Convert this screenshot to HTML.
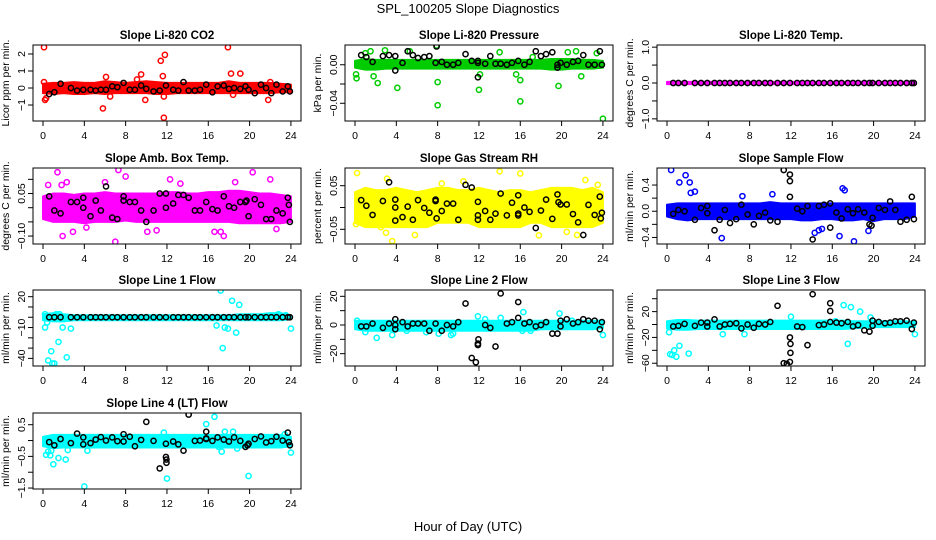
<!DOCTYPE html>
<html><head><meta charset="utf-8"><title>SPL_100205 Slope Diagnostics</title>
<style>
html,body{margin:0;padding:0;background:#fff;}
svg{display:block;font-family:"Liberation Sans",Arial,sans-serif;}
</style></head>
<body>
<svg id="chart" width="936" height="540" viewBox="0 0 936 540" xmlns="http://www.w3.org/2000/svg">
<text x="468" y="13" text-anchor="middle" font-size="13">SPL_100205  Slope Diagnostics</text>
<text x="468" y="531" text-anchor="middle" font-size="13">Hour of Day (UTC)</text>
</svg>
<script>
// ---------- shared data ----------
const bandHours = [0,1,2,3,4,5,6,7,8,9,10,11,12,13,14,15,16,17,18,19,20,21,22,23,24];
const blackHours = [0.6,1.1,1.7,2.7,3.3,3.9,4.6,5.1,5.6,6.1,6.7,7.2,7.8,8.4,8.9,9.5,10.0,10.7,11.3,11.9,12.6,13.1,13.6,14.1,14.7,15.2,15.8,16.4,16.9,17.5,18.0,18.5,19.1,19.6,19.9,20.5,21.1,21.6,22.1,22.6,23.2,23.7,23.9];
const xTicks = [0,4,8,12,16,20,24];

// ---------- CO2 ----------
const co2BandLo = [-0.3,-0.35,-0.3,-0.35,-0.35,-0.3,-0.35,-0.3,-0.3,-0.3,-0.3,-0.35,-0.35,-0.3,-0.3,-0.3,-0.3,-0.3,-0.3,-0.3,-0.3,-0.3,-0.3,-0.25,-0.25];
const co2BandHi = [0.25,0.3,0.3,0.35,0.3,0.3,0.4,0.35,0.3,0.35,0.4,0.35,0.3,0.3,0.3,0.3,0.3,0.3,0.4,0.3,0.3,0.3,0.3,0.25,0.2];
const co2Black = [-0.35,-0.25,0.25,0.0,-0.15,-0.1,-0.1,-0.15,-0.1,-0.1,0.1,0.05,0.3,-0.1,-0.1,0.15,-0.05,-0.2,-0.15,0.15,-0.1,-0.15,0.35,-0.15,-0.15,-0.1,0.2,-0.25,0.1,0.15,-0.05,0.0,-0.05,0.1,-0.1,-0.3,0.2,0.0,-0.3,0.2,-0.2,0.1,-0.2];
const co2OutX = [0.1,0.1,0.2,0.3,5.8,6.1,6.5,9.1,9.5,9.9,11.4,11.6,11.7,11.8,11.7,17.9,18.2,18.4,19.1,21.8,22.0];
const co2OutY = [2.4,0.35,-0.7,-0.6,-1.2,0.65,-0.5,0.5,0.8,-0.7,1.6,0.7,-0.5,1.95,-1.75,2.4,0.85,-0.4,0.85,-0.7,0.35];
const co2ExtraX = [];
const co2ExtraY = [];

// ---------- Pressure ----------
const presBandLo = [-0.003,-0.005,-0.005,-0.004,-0.004,-0.004,-0.004,-0.004,-0.004,-0.004,-0.004,-0.004,-0.004,-0.004,-0.004,-0.004,-0.004,-0.004,-0.004,-0.005,-0.005,-0.004,-0.004,-0.004,-0.003];
const presBandHi = [0.004,0.006,0.005,0.005,0.005,0.005,0.005,0.005,0.005,0.005,0.005,0.005,0.005,0.005,0.005,0.005,0.005,0.005,0.005,0.006,0.006,0.006,0.005,0.005,0.004];
const presBlack = [0.01,0.008,0.003,0.009,0.01,0.009,0.002,0.014,0.01,0.007,0.008,0.009,0.002,0.003,0.0,0.0,0.002,0.011,0.004,0.002,0.001,0.009,0.001,0.001,0.0,0.002,0.004,0.0,0.003,0.014,0.009,0.011,0.013,0.0,0.002,0.0,0.003,0.004,0.01,0.0,0.0,0.014,0.0];
const presOutX = [0.1,0.15,1.0,1.5,1.8,2.2,2.9,4.1,5.3,7.9,8.0,8.0,12.0,12.1,14.0,15.6,16.0,16.0,17.2,19.7,20.6,21.4,21.9,23.4,24.0];
const presOutY = [-0.01,-0.014,0.012,0.014,-0.012,-0.019,0.015,-0.024,0.014,0.02,-0.018,-0.042,-0.026,-0.01,0.013,-0.01,-0.038,-0.016,0.008,-0.022,0.013,0.014,-0.012,0.012,-0.056];
const presExtraX = [3.9,7.9,11.9,11.9,19.6];
const presExtraY = [-0.006,0.019,-0.013,0.004,-0.003];

// ---------- Li-820 Temp ----------
const tempBandLo = [-0.03,-0.03,-0.03,-0.03,-0.03,-0.03,-0.03,-0.03,-0.03,-0.03,-0.03,-0.03,-0.03,-0.03,-0.03,-0.03,-0.03,-0.03,-0.03,-0.03,-0.03,-0.03,-0.03,-0.03,-0.03];
const tempBandHi = [0.03,0.03,0.03,0.03,0.03,0.03,0.03,0.03,0.03,0.03,0.03,0.03,0.03,0.03,0.03,0.03,0.03,0.03,0.03,0.03,0.03,0.03,0.03,0.03,0.03];
const tempBlack = [0,0,0,0,0,0,0,0,0,0,0,0,0,0,0,0,0,0,0,0,0,0,0,0,0,0,0,0,0,0,0,0,0,0,0,0,0,0,0,0,0,0,0];
const tempOutX = [];
const tempOutY = [];
const tempExtraX = [];
const tempExtraY = [];

// ---------- Amb Box Temp ----------
const ambBandLo = [-0.04,-0.05,-0.05,-0.05,-0.055,-0.05,-0.05,-0.05,-0.045,-0.05,-0.05,-0.05,-0.05,-0.05,-0.05,-0.05,-0.05,-0.05,-0.05,-0.055,-0.055,-0.055,-0.055,-0.055,-0.05];
const ambBandHi = [0.04,0.05,0.05,0.045,0.05,0.05,0.055,0.05,0.05,0.05,0.05,0.05,0.055,0.055,0.05,0.05,0.055,0.055,0.06,0.06,0.055,0.05,0.05,0.045,0.04];
const ambBlack = [0.04,-0.01,-0.02,0.02,0.02,0.035,-0.03,0.025,-0.01,0.075,-0.035,-0.04,0.04,0.02,0.02,-0.01,-0.05,-0.01,0.05,0.05,0.015,0.045,0.045,0.035,-0.01,-0.01,0.02,-0.005,-0.01,0.04,0.005,0.0,0.02,0.02,-0.03,0.03,0.01,-0.04,-0.04,-0.01,-0.02,0.035,-0.05];
const ambOutX = [1.4,0.5,1.8,2.3,1.9,2.9,6.0,7.3,7.0,10.1,12.3,13.3,16.6,17.2,17.5,18.6,20.3,22.0,22.6,4.2,11.0,8.0];
const ambOutY = [0.125,0.08,0.08,0.09,-0.1,-0.085,0.09,0.133,-0.12,-0.085,0.1,0.085,-0.085,-0.085,-0.1,0.09,0.125,0.1,-0.075,-0.07,-0.08,0.11];
const ambExtraX = [3.9,7.8,11.9,19.7,23.8];
const ambExtraY = [0.0,0.025,0.0,0.025,0.01];

// ---------- Gas Stream RH ----------
const rhBandLo = [-0.035,-0.045,-0.045,-0.045,-0.045,-0.045,-0.045,-0.045,-0.035,-0.035,-0.035,-0.035,-0.045,-0.045,-0.045,-0.045,-0.045,-0.035,-0.035,-0.045,-0.045,-0.045,-0.045,-0.045,-0.035];
const rhBandHi = [0.035,0.045,0.04,0.04,0.045,0.04,0.035,0.04,0.045,0.045,0.04,0.04,0.045,0.04,0.035,0.04,0.04,0.035,0.04,0.045,0.045,0.045,0.04,0.045,0.035];
const rhBlack = [0.017,0.004,-0.017,0.015,0.058,0.018,-0.022,0.002,-0.028,0.017,-0.001,-0.012,0.018,-0.008,0.009,0.009,-0.028,0.052,0.046,0.013,-0.008,-0.028,-0.014,0.032,-0.018,0.011,-0.014,0.0,-0.01,-0.047,-0.007,0.018,-0.026,0.03,0.007,0.007,-0.015,-0.034,-0.063,0.006,-0.017,0.025,-0.012];
const rhOutX = [0.2,0.1,3.1,3.0,3.6,2.5,5.8,8.4,14.0,16.0,17.8,20.5,21.5,22.3,23.5,10.5];
const rhOutY = [0.079,-0.038,0.066,-0.058,-0.077,-0.045,-0.063,0.055,0.083,0.078,-0.064,-0.056,-0.063,0.063,0.052,0.06];
const rhExtraX = [3.9,3.9,7.8,7.9,11.9,11.9,15.8,15.8,19.7,23.8];
const rhExtraY = [-0.03,0.0,0.015,-0.025,-0.018,-0.028,-0.018,0.028,0.012,-0.025];

// ---------- Sample Flow ----------
const sampBandLo = [-0.08,-0.12,-0.14,-0.12,-0.12,-0.12,-0.12,-0.12,-0.12,-0.12,-0.12,-0.12,-0.12,-0.14,-0.14,-0.12,-0.12,-0.14,-0.14,-0.12,-0.15,-0.12,-0.12,-0.12,-0.08];
const sampBandHi = [0.1,0.12,0.12,0.12,0.12,0.12,0.12,0.12,0.12,0.12,0.14,0.12,0.12,0.12,0.12,0.12,0.12,0.12,0.12,0.12,0.12,0.12,0.12,0.12,0.12];
const sampBlack = [-0.04,0.02,0.0,-0.13,0.05,-0.03,-0.29,-0.13,0.02,-0.18,-0.12,0.1,-0.05,-0.2,-0.07,-0.02,-0.14,-0.16,0.63,0.56,0.04,0.0,0.08,-0.43,0.08,0.1,-0.25,-0.02,-0.11,0.03,-0.03,0.03,-0.02,-0.2,-0.1,0.05,0.02,0.15,0.02,-0.16,-0.13,0.22,-0.12];
const sampOutX = [0.4,1.2,1.8,2.2,2.3,2.7,5.3,14.3,14.7,15.0,16.7,17.0,17.2,18.1,19.5,7.3,10.2];
const sampOutY = [0.63,0.44,0.55,0.44,0.28,0.3,-0.41,-0.33,-0.29,-0.27,-0.38,0.35,0.32,-0.46,-0.3,0.23,0.26];
const sampExtraX = [11.9,11.9,3.9,15.8,19.8];
const sampExtraY = [0.46,0.22,0.08,0.12,-0.22];

// ---------- Line 1 Flow ----------
const l1BandLo = [-3,-4,-4,-3,-3,-3,-3,-3,-3,-3,-3,-3,-3,-3,-3,-3,-3,-3,-3,-3,-3,-3,-3,-3,-2];
const l1BandHi = [3,4,3,2,2,2,2,2,2,2,2,2,2,2,2,2,2,2,2,3,3,3,4,4,2];
const l1Black = [0,0,0,0,0,0,0,0,0,0,0,0,0,0,0,0,0,0,0,0,0,0,0,0,0,0,0,0,0,0,0,0,0,0,0,0,0,0,0,0,0,0,0];
const l1OutX = [0.2,0.2,0.4,0.5,0.8,0.9,1.1,1.3,1.5,1.6,1.9,2.3,2.7,17.2,17.4,16.8,17.6,17.9,18.3,18.7,19.0,24.0,22.8,23.5];
const l1OutY = [3,-10,-5,-42,-33,-45,-45,3,-24,3,-10,-39,-11,26,-30,-8,-10,-11,16,-15,12,-11,3,2];
const l1ExtraX = [];
const l1ExtraY = [];

// ---------- Line 2 Flow ----------
const l2BandLo = [-3,-4,-4,-4,-4,-4,-4,-4,-4,-4,-4,-4,-4,-4,-4,-4,-4,-4,-3,-3,-3,-3,-3,-3,-2];
const l2BandHi = [3,3,3,3,3,3,3,3,3,3,3,3,3,3,3,3,3,3,3,3,3,3,3,3,3];
const l2Black = [-1,-1,1,-2,1,4,2,-1,1,1,1,-4,1,-4,0,-1,2,15,-23,-13,0,-2,-15,22,1,2,16,1,2,-1,0,2,-6,-6,3,4,1,2,4,3,3,-3,2];
const l2OutX = [0.2,2.1,1.0,3.6,5.0,6.9,8.1,9.3,9.5,11.9,12.6,14.1,16.3,16.2,17.0,19.8,24.0,21.0];
const l2OutY = [3,-9,-5,-7,-4,-5,-6,-7,-6,6,4,5,9,-4,-4,8,-7,3];
const l2ExtraX = [11.7,11.95,11.9,15.8,3.9,3.9,19.9];
const l2ExtraY = [-26,-10,-14,5,0,-3,-1];

// ---------- Line 3 Flow ----------
const l3BandLo = [-6,-8,-8,-7,-7,-7,-7,-7,-7,-7,-7,-7,-7,-7,-7,-7,-7,-7,-6,-5,-4,-4,-4,-4,-4];
const l3BandHi = [5,7,7,6,6,6,6,6,6,6,6,6,6,6,6,6,6,6,5,5,5,5,5,5,4];
const l3Black = [-3,-2,1,-2,3,-3,8,-3,0,1,2,-6,0,-5,1,0,4,29,-60,-20,-3,-4,-32,47,-1,0,33,3,2,4,-3,-1,-9,-11,6,4,2,3,5,5,6,-7,3];
const l3OutX = [0.2,0.3,0.5,0.7,0.9,1.2,2.1,12.0,16.3,17.1,17.8,17.5,18.7,19.7,20.2,24.0,7.5,5.4];
const l3OutY = [-12,-46,-47,-40,-50,-33,-45,12,5,30,27,-30,20,11,3,-15,-15,-15];
const l3ExtraX = [11.6,11.9,11.95,11.95,15.8,15.8,19.9,3.9];
const l3ExtraY = [-61,-58,-44,-30,21,4,-2,3];

// ---------- Line 4 (LT) Flow ----------
const l4BandLo = [-0.18,-0.24,-0.22,-0.22,-0.22,-0.22,-0.22,-0.22,-0.22,-0.22,-0.22,-0.22,-0.22,-0.22,-0.22,-0.22,-0.22,-0.22,-0.22,-0.22,-0.22,-0.22,-0.22,-0.22,-0.18];
const l4BandHi = [0.12,0.18,0.18,0.18,0.18,0.18,0.18,0.18,0.18,0.18,0.18,0.18,0.18,0.18,0.18,0.18,0.18,0.18,0.18,0.18,0.18,0.18,0.18,0.18,0.12];
const l4Black = [-0.05,-0.15,0.05,-0.08,0.22,0.1,-0.08,0.03,0.11,0.0,0.1,-0.02,-0.03,0.12,-0.18,0.02,0.59,-0.01,-0.88,-0.1,-0.03,-0.12,-0.32,0.82,-0.01,0.0,0.07,-0.01,0.1,0.03,-0.03,0.1,-0.01,-0.2,-0.1,0.05,0.13,-0.06,-0.02,0.12,0.0,0.25,-0.15];
const l4OutX = [0.3,0.5,0.7,0.8,1.0,1.5,2.2,2.4,4.0,4.3,11.7,12.0,15.8,16.6,17.0,17.3,17.6,18.4,18.8,19.9,23.4,24.0];
const l4OutY = [-0.45,-0.35,-0.47,-0.32,-0.75,-0.55,-0.6,-0.3,-1.45,-0.32,0.25,-1.2,0.52,0.75,-0.2,-0.35,0.28,0.28,-0.25,-1.12,0.2,-0.38];
const l4ExtraX = [11.9,11.95,11.95,15.8,15.8,19.8,3.9,7.8,23.8];
const l4ExtraY = [-0.52,-0.6,-0.7,0.28,0.05,-0.15,-0.12,0.2,-0.05];

// ---------- panel configs (layout only) ----------
const NS = "http://www.w3.org/2000/svg";
const svg = document.getElementById('chart');
const colX0 = [43, 355, 667];
const rowTop = [45, 168, 290, 413];
const HPX = 10.33, BOXH = 76;

const panels = [
 {key:'co2', title:'Slope Li-820 CO2', ylab:'Licor ppm per min.', col:0,row:0, color:'#ff0000', ylim:[-1.94,2.53], yt:[-1,0,1,2], yl:['\u22121','0','1','2'],
  lo:co2BandLo, hi:co2BandHi, bk:co2Black, ox:co2OutX, oy:co2OutY, ex:co2ExtraX, ey:co2ExtraY},
 {key:'pressure', title:'Slope Li-820 Pressure', ylab:'kPa per min.', col:1,row:0, color:'#00cc00', ylim:[-0.0584,0.0205], yt:[-0.04,-0.02,0], yl:['\u22120.04','','0.00'],
  lo:presBandLo, hi:presBandHi, bk:presBlack, ox:presOutX, oy:presOutY, ex:presExtraX, ey:presExtraY},
 {key:'li820-temp', title:'Slope Li-820 Temp.', ylab:'degrees C per min.', col:2,row:0, color:'#ff00ff', ylim:[-1.06,1.06], yt:[-1,-0.5,0,0.5,1], yl:['\u22121.0','','0.0','','1.0'],
  lo:tempBandLo, hi:tempBandHi, bk:tempBlack, ox:tempOutX, oy:tempOutY, ex:tempExtraX, ey:tempExtraY},
 {key:'amb-box-temp', title:'Slope Amb. Box Temp.', ylab:'degrees C per min.', col:0,row:1, color:'#ff00ff', ylim:[-0.128,0.14], yt:[-0.1,-0.05,0,0.05,0.1], yl:['\u22120.10','','','0.05',''],
  lo:ambBandLo, hi:ambBandHi, bk:ambBlack, ox:ambOutX, oy:ambOutY, ex:ambExtraX, ey:ambExtraY},
 {key:'gas-stream-rh', title:'Slope Gas Stream RH', ylab:'percent per min.', col:1,row:1, color:'#ffff00', ylim:[-0.0837,0.0906], yt:[-0.05,0,0.05], yl:['\u22120.05','','0.05'],
  lo:rhBandLo, hi:rhBandHi, bk:rhBlack, ox:rhOutX, oy:rhOutY, ex:rhExtraX, ey:rhExtraY},
 {key:'sample-flow', title:'Slope Sample Flow', ylab:'ml/min per min.', col:2,row:1, color:'#0000ff', ylim:[-0.5,0.66], yt:[-0.4,-0.2,0,0.2,0.4], yl:['\u22120.4','','0.0','','0.4'],
  lo:sampBandLo, hi:sampBandHi, bk:sampBlack, ox:sampOutX, oy:sampOutY, ex:sampExtraX, ey:sampExtraY},
 {key:'line1-flow', title:'Slope Line 1 Flow', ylab:'ml/min per min.', col:0,row:2, color:'#00ffff', ylim:[-47.4,26.5], yt:[-40,-30,-20,-10,0,10,20], yl:['\u221240','','','\u221210','','','20'],
  lo:l1BandLo, hi:l1BandHi, bk:l1Black, ox:l1OutX, oy:l1OutY, ex:l1ExtraX, ey:l1ExtraY},
 {key:'line2-flow', title:'Slope Line 2 Flow', ylab:'ml/min per min.', col:1,row:2, color:'#00ffff', ylim:[-28.6,24.4], yt:[-20,-10,0,10,20], yl:['\u221220','','0','','20'],
  lo:l2BandLo, hi:l2BandHi, bk:l2Black, ox:l2OutX, oy:l2OutY, ex:l2ExtraX, ey:l2ExtraY},
 {key:'line3-flow', title:'Slope Line 3 Flow', ylab:'ml/min per min.', col:2,row:2, color:'#00ffff', ylim:[-64.3,53.5], yt:[-60,-40,-20,0,20,40], yl:['\u221260','','\u221220','','20',''],
  lo:l3BandLo, hi:l3BandHi, bk:l3Black, ox:l3OutX, oy:l3OutY, ex:l3ExtraX, ey:l3ExtraY},
 {key:'line4-flow', title:'Slope Line 4 (LT) Flow', ylab:'ml/min per min.', col:0,row:3, color:'#00ffff', ylim:[-1.53,0.87], yt:[-1.5,-1,-0.5,0,0.5], yl:['\u22121.5','','\u22120.5','','0.5'],
  lo:l4BandLo, hi:l4BandHi, bk:l4Black, ox:l4OutX, oy:l4OutY, ex:l4ExtraX, ey:l4ExtraY}
];

function mk(tag, attrs, parent){
  const e = document.createElementNS(NS, tag);
  for (const k in attrs) e.setAttribute(k, attrs[k]);
  parent.appendChild(e);
  return e;
}

panels.forEach(p => {
  const x0 = colX0[p.col], top = rowTop[p.row], bot = top + BOXH;
  const left = x0 - 10, right = x0 + 258;
  const xs = h => x0 + h * HPX;
  const ys = v => bot - (v - p.ylim[0]) / (p.ylim[1] - p.ylim[0]) * BOXH;

  const g = mk('g', {}, svg);
  
  

  const clip = mk('clipPath', {id:'clip-' + p.key}, g);
  mk('rect', {x:left, y:top, width:right-left, height:BOXH}, clip);

  const t = mk('text', {x:(left+right)/2, y:top-6, 'text-anchor':'middle', 'font-size':'11.5', 'font-weight':'bold'}, g);
  t.textContent = p.title;
  
  

  const yl = mk('text', {x:0, y:0, transform:`translate(${left-24},${(top+bot)/2}) rotate(-90)`, 'text-anchor':'middle', 'font-size':'10.5'}, g);
  yl.textContent = p.ylab;
  
  

  const marks = mk('g', {'clip-path':`url(#clip-${p.key})`}, g);
  
  

  let pts = [];
  bandHours.forEach((h,i) => pts.push(xs(h).toFixed(1) + ',' + ys(p.hi[i]).toFixed(1)));
  for (let i = bandHours.length-1; i >= 0; i--) pts.push(xs(bandHours[i]).toFixed(1) + ',' + ys(p.lo[i]).toFixed(1));
  const band = mk('polygon', {points:pts.join(' '), fill:p.color, stroke:p.color, 'stroke-width':'2', 'stroke-linejoin':'round'}, marks);
  
  

  p.ox.forEach((h,i) => {
    const c = mk('circle', {cx:xs(h), cy:ys(p.oy[i]), r:2.6, fill:'none', stroke:p.color, 'stroke-width':'1.5'}, marks);
    
    
  });
  blackHours.forEach((h,i) => {
    const c = mk('circle', {cx:xs(h), cy:ys(p.bk[i]), r:2.6, fill:'none', stroke:'#000', 'stroke-width':'1.5'}, marks);
    
    
  });
  p.ex.forEach((h,i) => {
    const c = mk('circle', {cx:xs(h), cy:ys(p.ey[i]), r:2.6, fill:'none', stroke:'#000', 'stroke-width':'1.5'}, marks);
    
    
  });

  const box = mk('rect', {x:left, y:top, width:right-left, height:BOXH, fill:'none', stroke:'#000', 'stroke-width':'1'}, g);
  
  

  const xa = mk('g', {}, g);
  
  
  mk('line', {x1:xs(xTicks[0]), x2:xs(xTicks[xTicks.length-1]), y1:bot, y2:bot, stroke:'#000'}, xa);
  xTicks.forEach(v => {
    mk('line', {x1:xs(v), x2:xs(v), y1:bot, y2:bot+5, stroke:'#000'}, xa);
    const tx = mk('text', {x:xs(v), y:bot+18, 'text-anchor':'middle', 'font-size':'10.5'}, xa);
    tx.textContent = String(v);
    
    
  });

  const ya = mk('g', {}, g);
  
  
  mk('line', {x1:left, x2:left, y1:ys(p.yt[0]), y2:ys(p.yt[p.yt.length-1]), stroke:'#000'}, ya);
  p.yt.forEach((v,i) => {
    mk('line', {x1:left-5, x2:left, y1:ys(v), y2:ys(v), stroke:'#000'}, ya);
    if (p.yl[i]) {
      const ty = mk('text', {x:0, y:0, transform:`translate(${left-8},${ys(v)}) rotate(-90)`, 'text-anchor':'middle', 'font-size':'10.5'}, ya);
      ty.textContent = p.yl[i];
      
      
    }
  });
});
</script>
</body></html>
